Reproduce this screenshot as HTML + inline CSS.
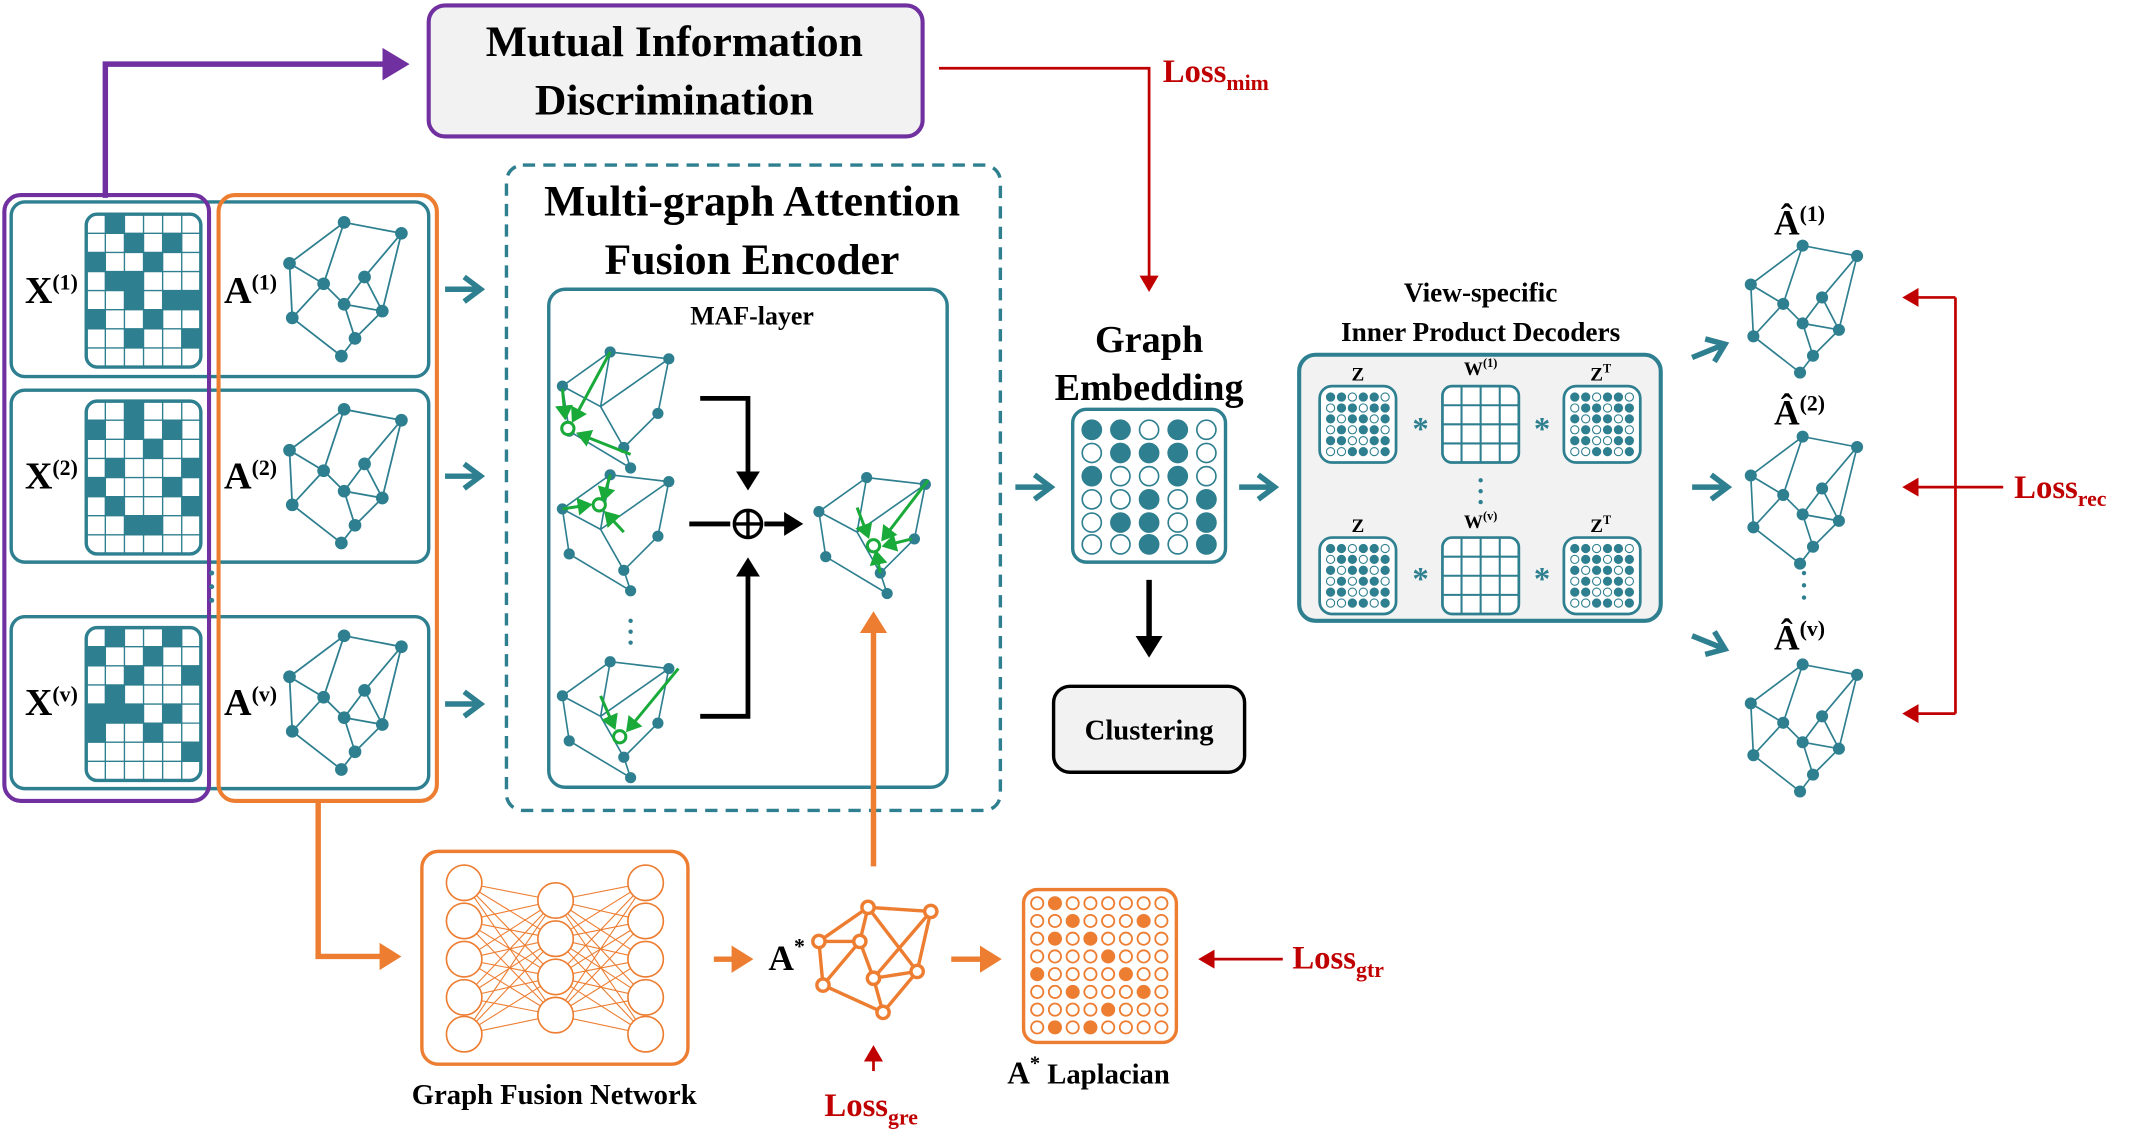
<!DOCTYPE html>
<html><head><meta charset="utf-8"><style>
html,body{margin:0;padding:0;background:#fff;}
svg{display:block;}
svg text{font-family:"Liberation Serif",serif !important;font-weight:bold;}
</style></head><body>
<svg width="2129" height="1142" viewBox="0 0 1560 837" xmlns="http://www.w3.org/2000/svg" font-family="Liberation Serif, serif" font-weight="bold">
<defs>
<marker id="ap" markerWidth="6" markerHeight="6" refX="4" refY="3" orient="auto" markerUnits="strokeWidth"><path d="M0,0 L5,3 L0,6 Z" fill="#7030a0"/></marker>
<marker id="ar" markerWidth="7" markerHeight="7" refX="5" refY="3.5" orient="auto" markerUnits="strokeWidth"><path d="M0,0 L6,3.5 L0,7 Z" fill="#c00000"/></marker>
<marker id="ao" markerWidth="5" markerHeight="5" refX="3" refY="2.5" orient="auto" markerUnits="strokeWidth"><path d="M0,0 L4,2.5 L0,5 Z" fill="#ed7d31"/></marker>
<marker id="ab" markerWidth="5" markerHeight="5" refX="3" refY="2.5" orient="auto" markerUnits="strokeWidth"><path d="M0,0 L4,2.5 L0,5 Z" fill="#000"/></marker>
<marker id="ag" markerWidth="6" markerHeight="6" refX="4" refY="3" orient="auto" markerUnits="strokeWidth"><path d="M0,0 L5,3 L0,6 Z" fill="#1aaa3a"/></marker>
<g id="tarrow"><path d="M0,0 L24,0" stroke="#2e7f8f" stroke-width="4"/><path d="M14,-9 L26,0 L14,9" fill="none" stroke="#2e7f8f" stroke-width="4"/></g>
<g id="gr" stroke="#2e7f8f" stroke-width="1.3" fill="#2e7f8f">
<path d="M0,30 L40,0 L82,8 L68,65 L40,60 L48,85 L38,98 L2,70 Z M0,30 L25,45 L40,60 M40,0 L25,45 M82,8 L55,40 L40,60 M55,40 L68,65 M48,85 L68,65 M25,45 L2,70" fill="none"/>
<circle cx="0" cy="30" r="4"/><circle cx="40" cy="0" r="4"/><circle cx="82" cy="8" r="4"/><circle cx="68" cy="65" r="4"/><circle cx="40" cy="60" r="4"/><circle cx="48" cy="85" r="4"/><circle cx="38" cy="98" r="4"/><circle cx="2" cy="70" r="4"/><circle cx="25" cy="45" r="4"/><circle cx="55" cy="40" r="4"/>
</g>
<g id="gg" stroke="#2e7f8f" stroke-width="1.2" fill="#2e7f8f">
<path d="M0,25 L35,0 L78,5 L70,45 L45,70 L50,85 L5,58 Z M35,0 L28,40 L45,70 M78,5 L28,40 M0,25 L28,40" fill="none"/>
<circle cx="0" cy="25" r="3.5"/><circle cx="35" cy="0" r="3.5"/><circle cx="78" cy="5" r="3.5"/><circle cx="70" cy="45" r="3.5"/><circle cx="45" cy="70" r="3.5"/><circle cx="50" cy="85" r="3.5"/><circle cx="5" cy="58" r="3.5"/>
</g>
<g id="grid">
<rect x="0" y="0" width="84" height="112" rx="8" fill="#fff" stroke="#2e7f8f" stroke-width="2.5"/>
<path d="M14,0V112M28,0V112M42,0V112M56,0V112M70,0V112M0,14H84M0,28H84M0,42H84M0,56H84M0,70H84M0,84H84M0,98H84" stroke="#2e7f8f" stroke-width="1"/>
</g>
<g id="wgrid"><rect x="0" y="0" width="56" height="56" rx="7" fill="#fff" stroke="#2e7f8f" stroke-width="2"/><path d="M14,0V56M28,0V56M42,0V56M0,14H56M0,28H56M0,42H56" stroke="#2e7f8f" stroke-width="1.5"/></g>
<g id="dots"><rect x="0" y="0" width="56" height="56" rx="9" fill="#fff" stroke="#2e7f8f" stroke-width="2"/>
<g fill="#2e7f8f" stroke="#2e7f8f" stroke-width="0.8">
<circle cx="8" cy="8" r="3"/><circle cx="16" cy="8" r="3"/><circle cx="24" cy="8" r="3" fill="#fff"/><circle cx="32" cy="8" r="3"/><circle cx="40" cy="8" r="3"/><circle cx="48" cy="8" r="3" fill="#fff"/>
<circle cx="8" cy="16" r="3" fill="#fff"/><circle cx="16" cy="16" r="3"/><circle cx="24" cy="16" r="3"/><circle cx="32" cy="16" r="3" fill="#fff"/><circle cx="40" cy="16" r="3"/><circle cx="48" cy="16" r="3"/>
<circle cx="8" cy="24" r="3"/><circle cx="16" cy="24" r="3" fill="#fff"/><circle cx="24" cy="24" r="3"/><circle cx="32" cy="24" r="3"/><circle cx="40" cy="24" r="3" fill="#fff"/><circle cx="48" cy="24" r="3"/>
<circle cx="8" cy="32" r="3" fill="#fff"/><circle cx="16" cy="32" r="3"/><circle cx="24" cy="32" r="3" fill="#fff"/><circle cx="32" cy="32" r="3"/><circle cx="40" cy="32" r="3"/><circle cx="48" cy="32" r="3" fill="#fff"/>
<circle cx="8" cy="40" r="3"/><circle cx="16" cy="40" r="3"/><circle cx="24" cy="40" r="3" fill="#fff"/><circle cx="32" cy="40" r="3" fill="#fff"/><circle cx="40" cy="40" r="3"/><circle cx="48" cy="40" r="3"/>
<circle cx="8" cy="48" r="3" fill="#fff"/><circle cx="16" cy="48" r="3" fill="#fff"/><circle cx="24" cy="48" r="3"/><circle cx="32" cy="48" r="3"/><circle cx="40" cy="48" r="3" fill="#fff"/><circle cx="48" cy="48" r="3"/>
</g></g>
</defs>

<rect x="314" y="4" width="362" height="96" rx="12" fill="#f2f2f2" stroke="#7030a0" stroke-width="3"/>
<text x="494" y="41" font-size="32" text-anchor="middle">Mutual Information</text>
<text x="494" y="84" font-size="32" text-anchor="middle">Discrimination</text>
<path d="M77,145 V47 H296" fill="none" stroke="#7030a0" stroke-width="4" marker-end="url(#ap)"/>
<path d="M688,50 H842 V212" fill="none" stroke="#c00000" stroke-width="2" marker-end="url(#ar)"/>
<text x="852" y="60" font-size="24" fill="#c00000">Loss<tspan font-size="16" dy="6">mim</tspan></text>

<rect x="8" y="148" width="306" height="128" rx="10" fill="#fff" stroke="#2e7f8f" stroke-width="2.5"/>
<rect x="8" y="286" width="306" height="126" rx="10" fill="#fff" stroke="#2e7f8f" stroke-width="2.5"/>
<rect x="8" y="452" width="306" height="126" rx="10" fill="#fff" stroke="#2e7f8f" stroke-width="2.5"/>
<rect x="3" y="143" width="150" height="444" rx="12" fill="none" stroke="#7030a0" stroke-width="3"/>
<rect x="160" y="143" width="160" height="444" rx="12" fill="none" stroke="#ed7d31" stroke-width="3"/>
<g fill="#2e7f8f">
<g transform="translate(63,157)"><use href="#grid"/><rect x="14" y="0" width="14" height="14"/><rect x="28" y="14" width="14" height="14"/><rect x="56" y="14" width="14" height="14"/><rect x="0" y="28" width="14" height="14"/><rect x="42" y="28" width="14" height="14"/><rect x="14" y="42" width="28" height="14"/><rect x="56" y="56" width="28" height="14"/><rect x="28" y="56" width="14" height="14"/><rect x="0" y="70" width="14" height="14"/><rect x="42" y="70" width="14" height="14"/><rect x="28" y="84" width="14" height="14"/><rect x="70" y="84" width="14" height="14"/></g>
<g transform="translate(63,294)"><use href="#grid"/><rect x="28" y="0" width="14" height="28"/><rect x="0" y="14" width="14" height="14"/><rect x="56" y="14" width="14" height="14"/><rect x="42" y="28" width="14" height="14"/><rect x="14" y="42" width="14" height="14"/><rect x="70" y="42" width="14" height="14"/><rect x="0" y="56" width="14" height="14"/><rect x="56" y="56" width="14" height="14"/><rect x="14" y="70" width="14" height="14"/><rect x="28" y="84" width="28" height="14"/><rect x="70" y="70" width="14" height="14"/></g>
<g transform="translate(63,460)"><use href="#grid"/><rect x="14" y="0" width="14" height="14"/><rect x="56" y="0" width="14" height="14"/><rect x="0" y="14" width="14" height="14"/><rect x="42" y="14" width="14" height="14"/><rect x="28" y="28" width="14" height="14"/><rect x="70" y="28" width="14" height="14"/><rect x="0" y="56" width="42" height="14"/><rect x="14" y="42" width="14" height="14"/><rect x="56" y="56" width="14" height="14"/><rect x="0" y="70" width="14" height="14"/><rect x="42" y="70" width="14" height="14"/><rect x="70" y="84" width="14" height="14"/></g>
</g>
<text x="18" y="222" font-size="28">X<tspan font-size="16" dy="-10">(1)</tspan></text>
<text x="18" y="358" font-size="28">X<tspan font-size="16" dy="-10">(2)</tspan></text>
<text x="18" y="524" font-size="28">X<tspan font-size="16" dy="-10">(v)</tspan></text>
<text x="164" y="222" font-size="28">A<tspan font-size="16" dy="-10">(1)</tspan></text>
<text x="164" y="358" font-size="28">A<tspan font-size="16" dy="-10">(2)</tspan></text>
<text x="164" y="524" font-size="28">A<tspan font-size="16" dy="-10">(v)</tspan></text>
<use href="#gr" transform="translate(212,163)"/>
<use href="#gr" transform="translate(212,300)"/>
<use href="#gr" transform="translate(212,466)"/>
<g fill="#2e7f8f"><circle cx="155" cy="420" r="1.8"/><circle cx="155" cy="430" r="1.8"/><circle cx="155" cy="440" r="1.8"/></g>
<use href="#tarrow" transform="translate(326,212)"/>
<use href="#tarrow" transform="translate(326,349)"/>
<use href="#tarrow" transform="translate(326,516)"/>

<rect x="371" y="121" width="362" height="473" rx="12" fill="none" stroke="#2e7f8f" stroke-width="2.5" stroke-dasharray="9,6"/>
<text x="551" y="158" font-size="32" text-anchor="middle">Multi-graph Attention</text>
<text x="551" y="201" font-size="32" text-anchor="middle">Fusion  Encoder</text>
<rect x="402" y="212" width="292" height="365" rx="12" fill="#fff" stroke="#2e7f8f" stroke-width="2.5"/>
<text x="551" y="238" font-size="19" text-anchor="middle">MAF-layer</text>
<use href="#gg" transform="translate(412,258)"/>
<use href="#gg" transform="translate(412,348)"/>
<use href="#gg" transform="translate(412,485)"/>
<use href="#gg" transform="translate(600,350)"/>
<g stroke="#1aaa3a" stroke-width="2.2" fill="none">
<path d="M447,258 L420,308" marker-end="url(#ag)"/><path d="M462,333 L424,318" marker-end="url(#ag)"/><path d="M412,285 L414,306" marker-end="url(#ag)"/><circle cx="416" cy="314" r="4.5" fill="#fff"/>
<path d="M447,348 L442,366" marker-end="url(#ag)"/><path d="M412,373 L432,370" marker-end="url(#ag)"/><path d="M457,390 L444,376" marker-end="url(#ag)"/><circle cx="439" cy="370" r="4.5" fill="#fff"/>
<path d="M497,490 L460,535" marker-end="url(#ag)"/><path d="M440,510 L450,533" marker-end="url(#ag)"/><circle cx="454" cy="540" r="4.5" fill="#fff"/>
<path d="M680,352 L647,395" marker-end="url(#ag)"/><path d="M628,372 L636,393" marker-end="url(#ag)"/><path d="M668,395 L648,400" marker-end="url(#ag)"/><path d="M645,420 L642,405" marker-end="url(#ag)"/><circle cx="640" cy="400" r="4.5" fill="#fff"/>
</g>
<g fill="#2e7f8f"><circle cx="462" cy="455" r="1.6"/><circle cx="462" cy="463" r="1.6"/><circle cx="462" cy="471" r="1.6"/></g>
<g stroke="#000" stroke-width="3.5" fill="none">
<path d="M513,292 H548 V356" marker-end="url(#ab)"/>
<path d="M513,525 H548 V412" marker-end="url(#ab)"/>
<path d="M505,384 H535"/><path d="M560,384 H585" marker-end="url(#ab)"/>
<circle cx="548" cy="384" r="10" stroke-width="2.5"/><path d="M538,384 H558 M548,374 V394" stroke-width="2.5"/>
</g>
<path d="M640,635 V452" stroke="#ed7d31" stroke-width="4" fill="none" marker-end="url(#ao)"/>

<text x="842" y="258" font-size="28" text-anchor="middle">Graph</text>
<text x="842" y="293" font-size="28" text-anchor="middle">Embedding</text>
<rect x="786" y="300" width="112" height="112" rx="10" fill="#fff" stroke="#2e7f8f" stroke-width="2.5"/>
<g stroke="#2e7f8f" stroke-width="1.2" fill="#2e7f8f">
<circle cx="800" cy="315" r="7"/><circle cx="821" cy="315" r="7"/><circle cx="842" cy="315" r="7" fill="#fff"/><circle cx="863" cy="315" r="7"/><circle cx="884" cy="315" r="7" fill="#fff"/>
<circle cx="800" cy="332" r="7" fill="#fff"/><circle cx="821" cy="332" r="7"/><circle cx="842" cy="332" r="7"/><circle cx="863" cy="332" r="7"/><circle cx="884" cy="332" r="7" fill="#fff"/>
<circle cx="800" cy="349" r="7"/><circle cx="821" cy="349" r="7" fill="#fff"/><circle cx="842" cy="349" r="7" fill="#fff"/><circle cx="863" cy="349" r="7"/><circle cx="884" cy="349" r="7" fill="#fff"/>
<circle cx="800" cy="366" r="7" fill="#fff"/><circle cx="821" cy="366" r="7" fill="#fff"/><circle cx="842" cy="366" r="7"/><circle cx="863" cy="366" r="7" fill="#fff"/><circle cx="884" cy="366" r="7"/>
<circle cx="800" cy="383" r="7" fill="#fff"/><circle cx="821" cy="383" r="7"/><circle cx="842" cy="383" r="7"/><circle cx="863" cy="383" r="7" fill="#fff"/><circle cx="884" cy="383" r="7"/>
<circle cx="800" cy="399" r="7" fill="#fff"/><circle cx="821" cy="399" r="7" fill="#fff"/><circle cx="842" cy="399" r="7"/><circle cx="863" cy="399" r="7" fill="#fff"/><circle cx="884" cy="399" r="7"/>
</g>
<use href="#tarrow" transform="translate(744,357)"/>
<use href="#tarrow" transform="translate(908,357)"/>
<path d="M842,425 V478" stroke="#000" stroke-width="4" marker-end="url(#ab)"/>
<rect x="772" y="503" width="140" height="63" rx="12" fill="#f2f2f2" stroke="#000" stroke-width="2.5"/>
<text x="842" y="542" font-size="21" text-anchor="middle">Clustering</text>

<text x="1085" y="221" font-size="20" text-anchor="middle">View-specific</text>
<text x="1085" y="250" font-size="20" text-anchor="middle">Inner Product Decoders</text>
<rect x="952" y="260" width="265" height="195" rx="12" fill="#f2f2f2" stroke="#2e7f8f" stroke-width="3"/>
<text x="995" y="279" font-size="14" text-anchor="middle">Z</text>
<text x="1085" y="275" font-size="14" text-anchor="middle">W<tspan font-size="9" dy="-6">(1)</tspan></text>
<text x="1173" y="279" font-size="14" text-anchor="middle">Z<tspan font-size="9" dy="-6">T</tspan></text>
<text x="995" y="390" font-size="14" text-anchor="middle">Z</text>
<text x="1085" y="387" font-size="14" text-anchor="middle">W<tspan font-size="9" dy="-6">(v)</tspan></text>
<text x="1173" y="390" font-size="14" text-anchor="middle">Z<tspan font-size="9" dy="-6">T</tspan></text>
<use href="#dots" transform="translate(967,283)"/><use href="#wgrid" transform="translate(1057,283)"/><use href="#dots" transform="translate(1146,283)"/>
<use href="#dots" transform="translate(967,394)"/><use href="#wgrid" transform="translate(1057,394)"/><use href="#dots" transform="translate(1146,394)"/>
<g font-size="24" fill="#2e7f8f" text-anchor="middle"><text x="1041" y="322">*</text><text x="1130" y="322">*</text><text x="1041" y="432">*</text><text x="1130" y="432">*</text></g>
<g fill="#2e7f8f"><circle cx="1085" cy="352" r="1.6"/><circle cx="1085" cy="360" r="1.6"/><circle cx="1085" cy="368" r="1.6"/></g>

<use href="#tarrow" transform="translate(1240,262) rotate(-22)"/>
<use href="#tarrow" transform="translate(1240,357)"/>
<use href="#tarrow" transform="translate(1240,466) rotate(22)"/>
<text x="1300" y="172" font-size="26">Â<tspan font-size="16" dy="-10">(1)</tspan></text>
<text x="1300" y="311" font-size="26">Â<tspan font-size="16" dy="-10">(2)</tspan></text>
<text x="1300" y="476" font-size="26">Â<tspan font-size="16" dy="-10">(v)</tspan></text>
<use href="#gr" transform="translate(1283,180) scale(0.95)"/>
<use href="#gr" transform="translate(1283,320) scale(0.95)"/>
<use href="#gr" transform="translate(1283,487) scale(0.95)"/>
<g fill="#2e7f8f"><circle cx="1322" cy="420" r="1.6"/><circle cx="1322" cy="429" r="1.6"/><circle cx="1322" cy="438" r="1.6"/></g>
<g stroke="#c00000" stroke-width="2" fill="none">
<path d="M1433,218 V523"/>
<path d="M1433,218 H1396" marker-end="url(#ar)"/>
<path d="M1433,357 H1396" marker-end="url(#ar)"/>
<path d="M1433,523 H1396" marker-end="url(#ar)"/>
<path d="M1468,357 H1433"/>
</g>
<text x="1476" y="365" font-size="24" fill="#c00000">Loss<tspan font-size="16" dy="6">rec</tspan></text>

<path d="M233,588 V701 H290" fill="none" stroke="#ed7d31" stroke-width="4" marker-end="url(#ao)"/>
<rect x="309" y="624" width="195" height="156" rx="12" fill="#fff" stroke="#ed7d31" stroke-width="2.5"/>
<g stroke="#ed7d31" stroke-width="0.8" fill="none">
<path d="M340,647 L407,660 M340,647 L407,688 M340,647 L407,716 M340,647 L407,744 M340,675 L407,660 M340,675 L407,688 M340,675 L407,716 M340,675 L407,744 M340,703 L407,660 M340,703 L407,688 M340,703 L407,716 M340,703 L407,744 M340,731 L407,660 M340,731 L407,688 M340,731 L407,716 M340,731 L407,744 M340,758 L407,660 M340,758 L407,688 M340,758 L407,716 M340,758 L407,744"/>
<path d="M473,647 L407,660 M473,647 L407,688 M473,647 L407,716 M473,647 L407,744 M473,675 L407,660 M473,675 L407,688 M473,675 L407,716 M473,675 L407,744 M473,703 L407,660 M473,703 L407,688 M473,703 L407,716 M473,703 L407,744 M473,731 L407,660 M473,731 L407,688 M473,731 L407,716 M473,731 L407,744 M473,758 L407,660 M473,758 L407,688 M473,758 L407,716 M473,758 L407,744"/>
</g>
<g stroke="#ed7d31" stroke-width="1.2" fill="#fff">
<circle cx="340" cy="647" r="13"/><circle cx="340" cy="675" r="13"/><circle cx="340" cy="703" r="13"/><circle cx="340" cy="731" r="13"/><circle cx="340" cy="758" r="13"/>
<circle cx="407" cy="660" r="13"/><circle cx="407" cy="688" r="13"/><circle cx="407" cy="716" r="13"/><circle cx="407" cy="744" r="13"/>
<circle cx="473" cy="647" r="13"/><circle cx="473" cy="675" r="13"/><circle cx="473" cy="703" r="13"/><circle cx="473" cy="731" r="13"/><circle cx="473" cy="758" r="13"/>
</g>
<text x="406" y="809" font-size="21" text-anchor="middle">Graph Fusion Network</text>
<path d="M523,703 H548" stroke="#ed7d31" stroke-width="4" marker-end="url(#ao)"/>
<text x="563" y="711" font-size="26">A<tspan font-size="16" dy="-12">*</tspan></text>
<g stroke="#ed7d31" stroke-width="2.5" fill="#fff">
<path d="M600,690 L636,665 L682,668 L672,712 L647,742 L603,722 Z M600,690 L630,690 L636,665 M630,690 L603,722 M630,690 L640,717 L682,668 M640,717 L647,742 M640,717 L672,712 M636,665 L672,712" fill="none"/>
<circle cx="600" cy="690" r="4.5"/><circle cx="636" cy="665" r="4.5"/><circle cx="682" cy="668" r="4.5"/><circle cx="672" cy="712" r="4.5"/><circle cx="647" cy="742" r="4.5"/><circle cx="603" cy="722" r="4.5"/><circle cx="630" cy="690" r="4.5"/><circle cx="640" cy="717" r="4.5"/>
</g>
<path d="M697,703 H730" stroke="#ed7d31" stroke-width="4" marker-end="url(#ao)"/>
<rect x="750" y="652" width="112" height="112" rx="10" fill="#fff" stroke="#ed7d31" stroke-width="2.5"/>
<g stroke="#ed7d31" stroke-width="1.3" fill="#fff">
<g id="orow"><circle cx="760" cy="662" r="4.5"/><circle cx="773" cy="662" r="4.5"/><circle cx="786" cy="662" r="4.5"/><circle cx="799" cy="662" r="4.5"/><circle cx="812" cy="662" r="4.5"/><circle cx="825" cy="662" r="4.5"/><circle cx="838" cy="662" r="4.5"/><circle cx="851" cy="662" r="4.5"/></g>
<use href="#orow" y="13"/><use href="#orow" y="26"/><use href="#orow" y="39"/><use href="#orow" y="52"/><use href="#orow" y="65"/><use href="#orow" y="78"/><use href="#orow" y="91"/>
</g>
<g fill="#ed7d31"><circle cx="773" cy="662" r="4.5"/><circle cx="786" cy="675" r="4.5"/><circle cx="838" cy="675" r="4.5"/><circle cx="773" cy="688" r="4.5"/><circle cx="799" cy="688" r="4.5"/><circle cx="812" cy="701" r="4.5"/><circle cx="760" cy="714" r="4.5"/><circle cx="825" cy="714" r="4.5"/><circle cx="786" cy="727" r="4.5"/><circle cx="838" cy="727" r="4.5"/><circle cx="812" cy="740" r="4.5"/><circle cx="773" cy="753" r="4.5"/><circle cx="799" cy="753" r="4.5"/></g>
<text x="738" y="794" font-size="23">A<tspan font-size="15" dy="-10">*</tspan><tspan dy="10" font-size="21"> Laplacian</tspan></text>
<path d="M940,703 H880" stroke="#c00000" stroke-width="2" marker-end="url(#ar)"/>
<text x="947" y="710" font-size="24" fill="#c00000">Loss<tspan font-size="16" dy="6">gtr</tspan></text>
<path d="M640,785 V768" stroke="#c00000" stroke-width="2" marker-end="url(#ar)"/>
<text x="604" y="818" font-size="24" fill="#c00000">Loss<tspan font-size="16" dy="6">gre</tspan></text>
</svg>
</body></html>
